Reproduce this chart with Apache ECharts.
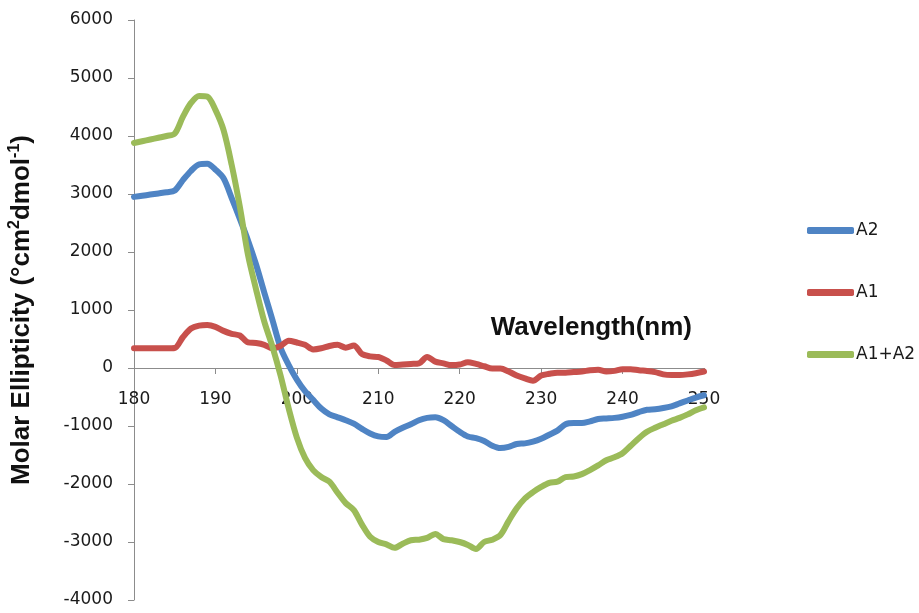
<!DOCTYPE html>
<html>
<head>
<meta charset="utf-8">
<script src="https://cdn.jsdelivr.net/npm/echarts@6/dist/echarts.min.js"></script>
<style>
  html, body { margin: 0; padding: 0; background: #ffffff; }
  #chart { width: 919px; height: 613px; }
</style>
</head>
<body>
<div id="chart"></div>
<script>
// Wavelength grid (nm), one reading per nanometre
const wavelengths = [];
for (let w = 180; w <= 250; w++) wavelengths.push(w);

// Molar ellipticity readings (deg cm2 dmol-1)
const seriesA2 = [
  2950, 2970, 2990, 3010, 3030, 3060, 3240, 3400, 3510, 3520,
  3420, 3270, 2930, 2570, 2200, 1780, 1300, 830, 350, 50,
  -200, -400, -550, -700, -800, -850, -900, -960, -1050, -1130,
  -1180, -1190, -1100, -1030, -970, -900, -860, -850, -900, -1000,
  -1100, -1180, -1210, -1260, -1340, -1380, -1360, -1310, -1300, -1270,
  -1220, -1150, -1080, -970, -950, -950, -920, -880, -870, -860,
  -840, -810, -760, -720, -710, -690, -660, -610, -560, -510,
  -470
];
const seriesA1 = [
  340, 340, 340, 340, 340, 345, 530, 680, 730, 740,
  710, 640, 590, 560, 440, 430, 400, 340, 380, 470,
  440, 400, 320, 340, 380, 400, 350, 390, 240, 200,
  190, 130, 50, 60, 70, 80, 190, 110, 80, 50,
  60, 100, 70, 30, -10, -10, -60, -130, -180, -220,
  -130, -100, -80, -80, -70, -60, -40, -30, -60, -50,
  -20, -20, -40, -50, -70, -110, -120, -120, -110, -90,
  -60
];
const seriesA1A2 = [
  3880, 3910, 3940, 3970, 4000, 4040, 4330, 4570, 4690, 4680,
  4450, 4100, 3500, 2780, 1950, 1350, 800, 370, -130, -700,
  -1200, -1550, -1760, -1880, -1960, -2150, -2330, -2450, -2700, -2910,
  -3000, -3040, -3100, -3030, -2970, -2960, -2930, -2860, -2950, -2970,
  -3000, -3050, -3120, -3000, -2960, -2880, -2640, -2420, -2250, -2140,
  -2050, -1980, -1960, -1880, -1870, -1830, -1760, -1680, -1590, -1540,
  -1470, -1340, -1210, -1100, -1030, -970, -910, -860, -800, -730,
  -680
];

const seriesNames = ['A2', 'A1', 'A1+A2'];
const seriesColors = ['#4F84C4', '#C8504C', '#9BBB59'];
const seriesValues = [seriesA2, seriesA1, seriesA1A2];

// Value-axis range
const yMin = -4000, yMax = 6000, yStep = 1000;
const xMin = 180, xMax = 250, xStep = 10;

const pairs = (ys) => wavelengths.map((w, i) => [w, ys[i]]);

const gridTop = 20, gridBottom = 13, chartHeight = 613;
const plotHeight = chartHeight - gridTop - gridBottom;
// shift the wavelength axis up so it runs along the zero line
const zeroShift = -plotHeight * (0 - yMin) / (yMax - yMin);

const chart = echarts.init(document.getElementById('chart'), null, { renderer: 'canvas' });

const axisGray = '#8c8c8c';
const labelFont = { fontFamily: 'DejaVu Sans', fontSize: 17, color: '#1a1a1a' };
const plain = (v) => String(v);

chart.setOption({
  backgroundColor: '#ffffff',
  animation: false,
  grid: { left: 134, right: 215, top: gridTop, bottom: gridBottom, containLabel: false, outerBoundsMode: 'none' },
  legend: {
    orient: 'vertical',
    left: 807,
    top: 222,
    padding: 0,
    itemWidth: 47,
    itemHeight: 7,
    itemGap: 45,
    icon: 'roundRect',
    textStyle: { fontFamily: 'DejaVu Sans', fontSize: 17, color: '#1a1a1a', padding: [0, 0, 0, -3] },
    data: seriesNames
  },
  xAxis: {
    type: 'value',
    min: xMin,
    max: xMax,
    interval: xStep,
    position: 'bottom',
    offset: zeroShift,
    name: 'Wavelength(nm)',
    nameLocation: 'end',
    nameGap: -12,
    nameTextStyle: {
      fontFamily: 'Liberation Sans',
      fontWeight: 'bold',
      fontSize: 26,
      color: '#111111',
      align: 'right',
      verticalAlign: 'bottom',
      padding: [0, 0, 27, 0]
    },
    axisLine: { onZero: false, lineStyle: { color: axisGray, width: 1 } },
    axisTick: { show: true, inside: false, length: 6, lineStyle: { color: axisGray } },
    axisLabel: Object.assign({ margin: 23, showMinLabel: true, showMaxLabel: true, formatter: plain }, labelFont),
    splitLine: { show: false }
  },
  yAxis: {
    type: 'value',
    min: yMin,
    max: yMax,
    interval: yStep,
    name: 'Molar Ellipticity (°cm{sup|2}dmol{sup|-1})',
    nameLocation: 'middle',
    nameGap: 97,
    nameRotate: 90,
    nameTextStyle: {
      fontFamily: 'Liberation Sans',
      fontWeight: 'bold',
      fontSize: 26,
      color: '#111111',
      lineHeight: 30,
      rich: {
        sup: {
          fontFamily: 'Liberation Sans',
          fontWeight: 'bold',
          fontSize: 16,
          color: '#111111',
          verticalAlign: 'top',
          lineHeight: 30
        }
      }
    },
    axisLine: { show: true, onZero: false, lineStyle: { color: axisGray, width: 1 } },
    axisTick: { show: true, inside: false, length: 6, lineStyle: { color: axisGray } },
    axisLabel: Object.assign({ margin: 21, formatter: plain }, labelFont),
    splitLine: { show: false }
  },
  series: seriesNames.map((name, k) => ({
    name: name,
    type: 'line',
    data: pairs(seriesValues[k]),
    smooth: 0.3,
    symbol: 'none',
    color: seriesColors[k],
    lineStyle: { width: 6, color: seriesColors[k], cap: 'round', join: 'round' },
    z: 2 + k
  }))
});
</script>
</body>
</html>
